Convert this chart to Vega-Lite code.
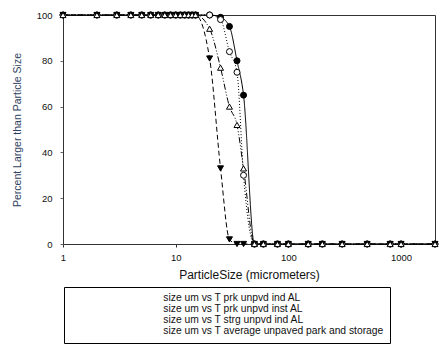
{
  "$schema": "https://vega.github.io/schema/vega-lite/v6.json",
  "width": 372,
  "height": 229,
  "autosize": "none",
  "padding": {"left": 63, "top": 15, "right": 7, "bottom": 112},
  "background": "white",
  "config": {
    "font": "Liberation Sans",
    "view": {"stroke": "#333", "strokeWidth": 1}
  },
  "datasets": {
    "pts": [
      {"series": "size um vs T prk unpvd ind AL", "x": 1, "y": 100},
      {"series": "size um vs T prk unpvd ind AL", "x": 2, "y": 100},
      {"series": "size um vs T prk unpvd ind AL", "x": 3, "y": 100},
      {"series": "size um vs T prk unpvd ind AL", "x": 4, "y": 100},
      {"series": "size um vs T prk unpvd ind AL", "x": 5, "y": 100},
      {"series": "size um vs T prk unpvd ind AL", "x": 6, "y": 100},
      {"series": "size um vs T prk unpvd ind AL", "x": 7, "y": 100},
      {"series": "size um vs T prk unpvd ind AL", "x": 8, "y": 100},
      {"series": "size um vs T prk unpvd ind AL", "x": 9, "y": 100},
      {"series": "size um vs T prk unpvd ind AL", "x": 10, "y": 100},
      {"series": "size um vs T prk unpvd ind AL", "x": 11, "y": 100},
      {"series": "size um vs T prk unpvd ind AL", "x": 12, "y": 100},
      {"series": "size um vs T prk unpvd ind AL", "x": 13, "y": 100},
      {"series": "size um vs T prk unpvd ind AL", "x": 14, "y": 100},
      {"series": "size um vs T prk unpvd ind AL", "x": 15, "y": 100},
      {"series": "size um vs T prk unpvd ind AL", "x": 20, "y": 100},
      {"series": "size um vs T prk unpvd ind AL", "x": 25, "y": 99},
      {"series": "size um vs T prk unpvd ind AL", "x": 30, "y": 95},
      {"series": "size um vs T prk unpvd ind AL", "x": 35, "y": 80},
      {"series": "size um vs T prk unpvd ind AL", "x": 40, "y": 65},
      {"series": "size um vs T prk unpvd ind AL", "x": 50, "y": 0},
      {"series": "size um vs T prk unpvd ind AL", "x": 60, "y": 0},
      {"series": "size um vs T prk unpvd ind AL", "x": 80, "y": 0},
      {"series": "size um vs T prk unpvd ind AL", "x": 100, "y": 0},
      {"series": "size um vs T prk unpvd ind AL", "x": 150, "y": 0},
      {"series": "size um vs T prk unpvd ind AL", "x": 200, "y": 0},
      {"series": "size um vs T prk unpvd ind AL", "x": 300, "y": 0},
      {"series": "size um vs T prk unpvd ind AL", "x": 500, "y": 0},
      {"series": "size um vs T prk unpvd ind AL", "x": 800, "y": 0},
      {"series": "size um vs T prk unpvd ind AL", "x": 1000, "y": 0},
      {"series": "size um vs T prk unpvd ind AL", "x": 2000, "y": 0},

      {"series": "size um vs T prk unpvd inst AL", "x": 1, "y": 100},
      {"series": "size um vs T prk unpvd inst AL", "x": 2, "y": 100},
      {"series": "size um vs T prk unpvd inst AL", "x": 3, "y": 100},
      {"series": "size um vs T prk unpvd inst AL", "x": 4, "y": 100},
      {"series": "size um vs T prk unpvd inst AL", "x": 5, "y": 100},
      {"series": "size um vs T prk unpvd inst AL", "x": 6, "y": 100},
      {"series": "size um vs T prk unpvd inst AL", "x": 7, "y": 100},
      {"series": "size um vs T prk unpvd inst AL", "x": 8, "y": 100},
      {"series": "size um vs T prk unpvd inst AL", "x": 9, "y": 100},
      {"series": "size um vs T prk unpvd inst AL", "x": 10, "y": 100},
      {"series": "size um vs T prk unpvd inst AL", "x": 11, "y": 100},
      {"series": "size um vs T prk unpvd inst AL", "x": 12, "y": 100},
      {"series": "size um vs T prk unpvd inst AL", "x": 13, "y": 100},
      {"series": "size um vs T prk unpvd inst AL", "x": 14, "y": 100},
      {"series": "size um vs T prk unpvd inst AL", "x": 15, "y": 100},
      {"series": "size um vs T prk unpvd inst AL", "x": 20, "y": 100},
      {"series": "size um vs T prk unpvd inst AL", "x": 25, "y": 98},
      {"series": "size um vs T prk unpvd inst AL", "x": 30, "y": 84},
      {"series": "size um vs T prk unpvd inst AL", "x": 35, "y": 75},
      {"series": "size um vs T prk unpvd inst AL", "x": 40, "y": 30},
      {"series": "size um vs T prk unpvd inst AL", "x": 50, "y": 0},
      {"series": "size um vs T prk unpvd inst AL", "x": 60, "y": 0},
      {"series": "size um vs T prk unpvd inst AL", "x": 80, "y": 0},
      {"series": "size um vs T prk unpvd inst AL", "x": 100, "y": 0},
      {"series": "size um vs T prk unpvd inst AL", "x": 150, "y": 0},
      {"series": "size um vs T prk unpvd inst AL", "x": 200, "y": 0},
      {"series": "size um vs T prk unpvd inst AL", "x": 300, "y": 0},
      {"series": "size um vs T prk unpvd inst AL", "x": 500, "y": 0},
      {"series": "size um vs T prk unpvd inst AL", "x": 800, "y": 0},
      {"series": "size um vs T prk unpvd inst AL", "x": 1000, "y": 0},
      {"series": "size um vs T prk unpvd inst AL", "x": 2000, "y": 0},

      {"series": "size um vs T strg unpvd ind AL", "x": 1, "y": 100},
      {"series": "size um vs T strg unpvd ind AL", "x": 2, "y": 100},
      {"series": "size um vs T strg unpvd ind AL", "x": 3, "y": 100},
      {"series": "size um vs T strg unpvd ind AL", "x": 4, "y": 100},
      {"series": "size um vs T strg unpvd ind AL", "x": 5, "y": 100},
      {"series": "size um vs T strg unpvd ind AL", "x": 6, "y": 100},
      {"series": "size um vs T strg unpvd ind AL", "x": 7, "y": 100},
      {"series": "size um vs T strg unpvd ind AL", "x": 8, "y": 100},
      {"series": "size um vs T strg unpvd ind AL", "x": 9, "y": 100},
      {"series": "size um vs T strg unpvd ind AL", "x": 10, "y": 100},
      {"series": "size um vs T strg unpvd ind AL", "x": 11, "y": 100},
      {"series": "size um vs T strg unpvd ind AL", "x": 12, "y": 100},
      {"series": "size um vs T strg unpvd ind AL", "x": 13, "y": 100},
      {"series": "size um vs T strg unpvd ind AL", "x": 14, "y": 100},
      {"series": "size um vs T strg unpvd ind AL", "x": 15, "y": 100},
      {"series": "size um vs T strg unpvd ind AL", "x": 20, "y": 81},
      {"series": "size um vs T strg unpvd ind AL", "x": 25, "y": 33},
      {"series": "size um vs T strg unpvd ind AL", "x": 30, "y": 2},
      {"series": "size um vs T strg unpvd ind AL", "x": 35, "y": 0},
      {"series": "size um vs T strg unpvd ind AL", "x": 40, "y": 0},
      {"series": "size um vs T strg unpvd ind AL", "x": 50, "y": 0},
      {"series": "size um vs T strg unpvd ind AL", "x": 60, "y": 0},
      {"series": "size um vs T strg unpvd ind AL", "x": 80, "y": 0},
      {"series": "size um vs T strg unpvd ind AL", "x": 100, "y": 0},
      {"series": "size um vs T strg unpvd ind AL", "x": 150, "y": 0},
      {"series": "size um vs T strg unpvd ind AL", "x": 200, "y": 0},
      {"series": "size um vs T strg unpvd ind AL", "x": 300, "y": 0},
      {"series": "size um vs T strg unpvd ind AL", "x": 500, "y": 0},
      {"series": "size um vs T strg unpvd ind AL", "x": 800, "y": 0},
      {"series": "size um vs T strg unpvd ind AL", "x": 1000, "y": 0},
      {"series": "size um vs T strg unpvd ind AL", "x": 2000, "y": 0},

      {"series": "size um vs T average unpaved park and storage", "x": 1, "y": 100},
      {"series": "size um vs T average unpaved park and storage", "x": 2, "y": 100},
      {"series": "size um vs T average unpaved park and storage", "x": 3, "y": 100},
      {"series": "size um vs T average unpaved park and storage", "x": 4, "y": 100},
      {"series": "size um vs T average unpaved park and storage", "x": 5, "y": 100},
      {"series": "size um vs T average unpaved park and storage", "x": 6, "y": 100},
      {"series": "size um vs T average unpaved park and storage", "x": 7, "y": 100},
      {"series": "size um vs T average unpaved park and storage", "x": 8, "y": 100},
      {"series": "size um vs T average unpaved park and storage", "x": 9, "y": 100},
      {"series": "size um vs T average unpaved park and storage", "x": 10, "y": 100},
      {"series": "size um vs T average unpaved park and storage", "x": 11, "y": 100},
      {"series": "size um vs T average unpaved park and storage", "x": 12, "y": 100},
      {"series": "size um vs T average unpaved park and storage", "x": 13, "y": 100},
      {"series": "size um vs T average unpaved park and storage", "x": 14, "y": 100},
      {"series": "size um vs T average unpaved park and storage", "x": 15, "y": 100},
      {"series": "size um vs T average unpaved park and storage", "x": 20, "y": 94},
      {"series": "size um vs T average unpaved park and storage", "x": 25, "y": 77},
      {"series": "size um vs T average unpaved park and storage", "x": 30, "y": 60},
      {"series": "size um vs T average unpaved park and storage", "x": 35, "y": 52},
      {"series": "size um vs T average unpaved park and storage", "x": 40, "y": 33},
      {"series": "size um vs T average unpaved park and storage", "x": 50, "y": 0},
      {"series": "size um vs T average unpaved park and storage", "x": 60, "y": 0},
      {"series": "size um vs T average unpaved park and storage", "x": 80, "y": 0},
      {"series": "size um vs T average unpaved park and storage", "x": 100, "y": 0},
      {"series": "size um vs T average unpaved park and storage", "x": 150, "y": 0},
      {"series": "size um vs T average unpaved park and storage", "x": 200, "y": 0},
      {"series": "size um vs T average unpaved park and storage", "x": 300, "y": 0},
      {"series": "size um vs T average unpaved park and storage", "x": 500, "y": 0},
      {"series": "size um vs T average unpaved park and storage", "x": 800, "y": 0},
      {"series": "size um vs T average unpaved park and storage", "x": 1000, "y": 0},
      {"series": "size um vs T average unpaved park and storage", "x": 2000, "y": 0}
    ]
  },
  "data": {"name": "pts"},
  "encoding": {
    "x": {
      "field": "x", "type": "quantitative",
      "scale": {"type": "log", "domain": [1, 2000], "nice": false},
      "axis": {
        "title": "ParticleSize (micrometers)",
        "values": [1, 10, 100, 1000], "format": "d",
        "grid": false, "domainColor": "#333", "tickColor": "#333",
        "tickSize": 3, "labelPadding": 5, "labelFontSize": 9.5, "labelColor": "#111",
        "labelFlush": false,
        "titleFontSize": 12, "titleFontWeight": "normal", "titleColor": "#111", "titlePadding": 8
      }
    },
    "y": {
      "field": "y", "type": "quantitative",
      "scale": {"domain": [0, 100], "nice": false},
      "axis": {
        "title": "Percent Larger than Particle Size",
        "values": [0, 20, 40, 60, 80, 100],
        "grid": false, "domainColor": "#333", "tickColor": "#666",
        "tickSize": 3, "labelPadding": 8, "labelFontSize": 9.5, "labelColor": "#111",
        "titleFontSize": 10.5, "titleFontWeight": "normal", "titleColor": "#2f4160", "titlePadding": 14
      }
    }
  },
  "layer": [
    {
      "mark": {"type": "line", "interpolate": "monotone", "color": "black", "strokeWidth": 1},
      "encoding": {
        "detail": {"field": "series"},
        "strokeDash": {
          "condition": [
            {"test": "datum.series === 'size um vs T prk unpvd inst AL'", "value": [1, 2]},
            {"test": "datum.series === 'size um vs T strg unpvd ind AL'", "value": [5, 3]},
            {"test": "datum.series === 'size um vs T average unpaved park and storage'", "value": [6, 2, 1, 2, 1, 2]}
          ],
          "value": [1, 0]
        }
      }
    },
    {
      "mark": {"type": "point", "stroke": "black", "strokeWidth": 1, "opacity": 1, "size": 36, "filled": false},
      "encoding": {
        "fill": {
          "condition": {"test": "datum.series === 'size um vs T prk unpvd ind AL' || datum.series === 'size um vs T strg unpvd ind AL'", "value": "black"},
          "value": "white"
        },
        "shape": {
          "field": "series", "type": "nominal",
          "scale": {
            "domain": ["size um vs T prk unpvd ind AL", "size um vs T prk unpvd inst AL", "size um vs T strg unpvd ind AL", "size um vs T average unpaved park and storage"],
            "range": ["circle", "circle", "triangle-down", "triangle-up"]
          },
          "legend": {
            "title": null,
            "orient": "none",
            "legendX": 1,
            "legendY": 272,
            "direction": "vertical",
            "strokeColor": "black",
            "fillColor": "white",
            "padding": 6,
            "symbolSize": 36,
            "symbolOffset": 23,
            "symbolStrokeWidth": 1,
            "symbolStrokeColor": "black",
            "rowPadding": 0,
            "labelOffset": 60,
            "labelFontSize": 10.3,
            "labelColor": "#111",
            "labelLimit": 400,
            "encode": {
              "symbols": {
                "fill": {
                  "condition": {"test": "datum.value === 'size um vs T prk unpvd ind AL' || datum.value === 'size um vs T strg unpvd ind AL'", "value": "black"},
                  "value": "white"
                },
                "stroke": {"value": "black"},
                "opacity": {"value": 1},
                "fillOpacity": {"value": 1}
              }
            }
          }
        }
      }
    }
  ]
}
